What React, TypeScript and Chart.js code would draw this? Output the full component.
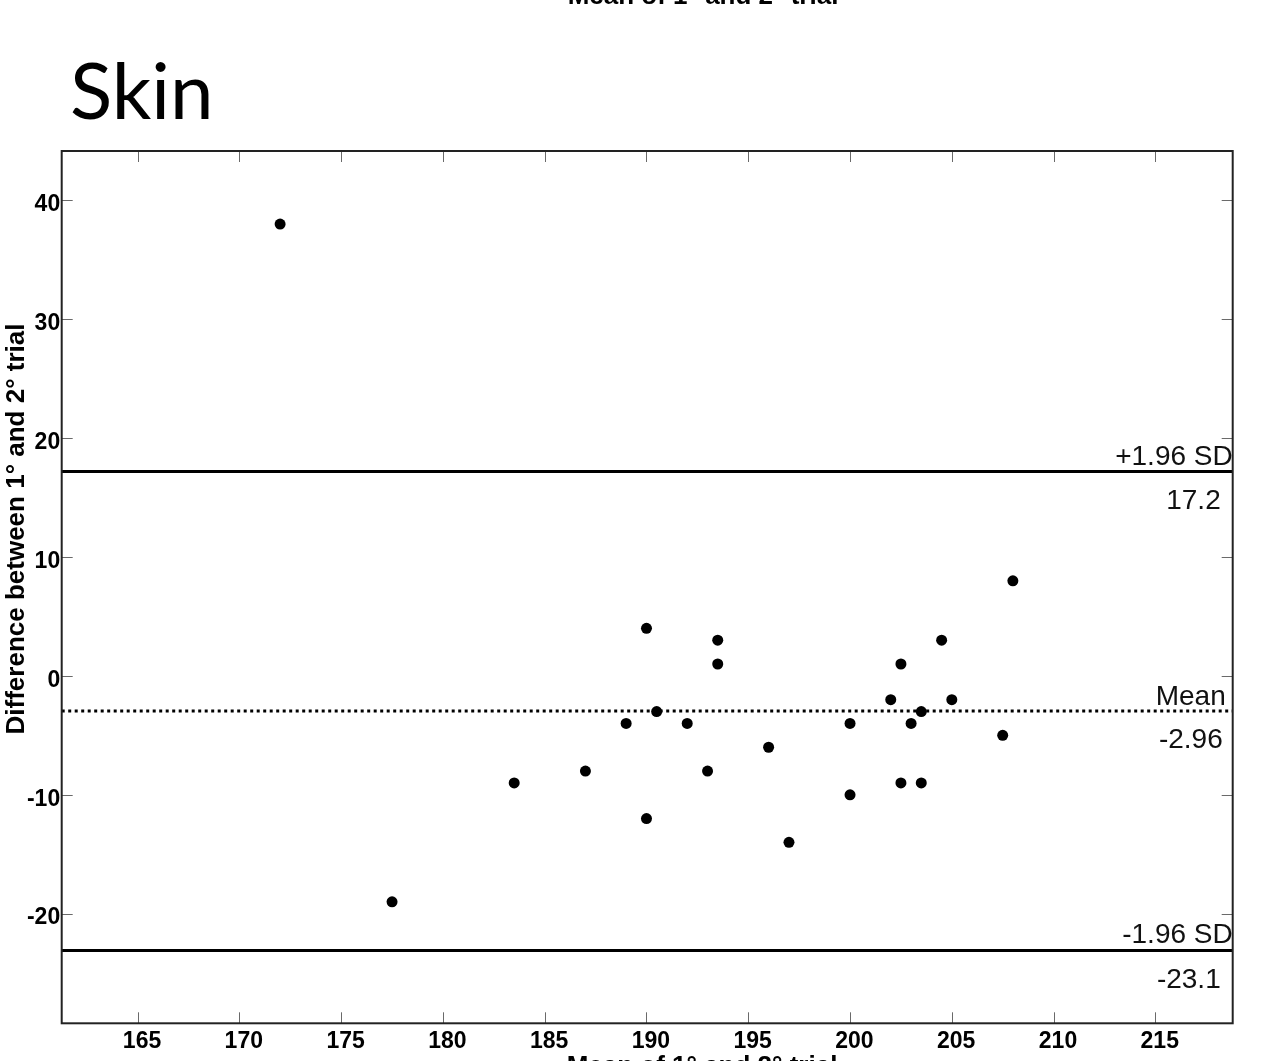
import React, { useEffect, useRef } from "react";
import { Chart, registerables } from "chart.js";

Chart.register(...registerables);

// ---- data ----
const MEAN_OF_TRIALS = [
  172, 177.5, 183.5, 187, 189, 190, 190, 190.5, 192, 193, 193.5, 193.5, 196,
  197, 200, 200, 202, 202.5, 202.5, 203, 203.5, 203.5, 204.5, 205, 207.5, 208,
];
const DIFF_OF_TRIALS = [
  38, -19, -9, -8, -4, 4, -12, -3, -4, -8, 3, 1, -6, -14, -4, -10, -2, 1, -9,
  -4, -3, -9, 3, -2, -5, 8,
];
const MEAN_DIFF = -2.96;
const UPPER_LOA = 17.2;
const LOWER_LOA = -23.1;

const X_TICKS = [165, 170, 175, 180, 185, 190, 195, 200, 205, 210, 215];
const Y_TICKS = [-20, -10, 0, 10, 20, 30, 40];
const X_RANGE = [161.27, 218.8];
const Y_RANGE = [-29.22, 44.15];

const PANEL_TITLE = "Skin";
const X_TITLE = "Mean of 1° and 2° trial";
const Y_TITLE = "Difference between 1° and 2° trial";
const UPPER_NAME = "+1.96 SD";
const MEAN_NAME = "Mean";
const LOWER_NAME = "-1.96 SD";

const FONT = "'Liberation Sans', Arial, Helvetica, sans-serif";

export default function App() {
  const ref = useRef<HTMLCanvasElement>(null);

  useEffect(() => {
    const canvas = ref.current;
    if (!canvas) return;

    const decor = {
      id: "decor",
      afterDraw(chart: any) {
        const { ctx, chartArea: a, scales } = chart;
        const xs = scales.x;
        const ys = scales.y;
        ctx.save();

        // inward tick marks on all four sides
        ctx.strokeStyle = "#6a6a6a";
        ctx.lineWidth = 1;
        ctx.beginPath();
        X_TICKS.forEach((v) => {
          const px = Math.round(xs.getPixelForValue(v)) + 0.5;
          ctx.moveTo(px, a.bottom);
          ctx.lineTo(px, a.bottom - 11);
          ctx.moveTo(px, a.top);
          ctx.lineTo(px, a.top + 11);
        });
        Y_TICKS.forEach((v) => {
          const py = Math.round(ys.getPixelForValue(v)) + 0.5;
          ctx.moveTo(a.left, py);
          ctx.lineTo(a.left + 11, py);
          ctx.moveTo(a.right, py);
          ctx.lineTo(a.right - 11, py);
        });
        ctx.stroke();

        // frame
        ctx.strokeStyle = "#222";
        ctx.lineWidth = 2;
        ctx.strokeRect(a.left, a.top, a.right - a.left, a.bottom - a.top);

        // limit labels
        ctx.fillStyle = "#111";
        ctx.font = `28px ${FONT}`;
        ctx.textAlign = "right";
        ctx.textBaseline = "alphabetic";
        const yU = ys.getPixelForValue(UPPER_LOA);
        const yM = ys.getPixelForValue(MEAN_DIFF);
        const yL = ys.getPixelForValue(LOWER_LOA);
        ctx.fillText(UPPER_NAME, a.right, yU - 6.5);
        ctx.fillText(String(UPPER_LOA), a.right - 12, yU + 38);
        ctx.fillText(MEAN_NAME, a.right - 7, yM - 6);
        ctx.fillText(String(MEAN_DIFF), a.right - 10, yM + 37);
        ctx.fillText(LOWER_NAME, a.right, yL - 7.5);
        ctx.fillText(String(LOWER_LOA), a.right - 12, yL + 37);

        // axis titles
        ctx.fillStyle = "#000";
        ctx.font = `bold 26px ${FONT}`;
        ctx.textAlign = "center";
        ctx.fillText(X_TITLE, 702, a.bottom + 51);
        // cut-off title of the panel above
        ctx.fillText(X_TITLE, 703, 4);

        ctx.save();
        ctx.translate(24, 529);
        ctx.rotate(-Math.PI / 2);
        ctx.fillText(Y_TITLE, 0, 0);
        ctx.restore();

        // panel title
        ctx.font = `78px Lato, 'Open Sans', sans-serif`;
        ctx.textAlign = "left";
        ctx.fillText(PANEL_TITLE, 70, 119);

        ctx.restore();
      },
    };

    const points = MEAN_OF_TRIALS.map((x, i) => ({ x, y: DIFF_OF_TRIALS[i] }));
    const hline = (v: number) => [
      { x: X_RANGE[0], y: v },
      { x: X_RANGE[1], y: v },
    ];

    const chart = new Chart(canvas, {
      type: "scatter",
      data: {
        datasets: [
          {
            data: points,
            pointRadius: 5.5,
            pointBackgroundColor: "#000",
            pointBorderColor: "#000",
            pointBorderWidth: 0,
            showLine: false,
          },
          {
            data: hline(UPPER_LOA),
            showLine: true,
            borderColor: "#000",
            borderWidth: 3,
            pointRadius: 0,
          },
          {
            data: hline(MEAN_DIFF),
            showLine: true,
            borderColor: "#000",
            borderWidth: 3,
            borderDash: [3, 3.5],
            pointRadius: 0,
          },
          {
            data: hline(LOWER_LOA),
            showLine: true,
            borderColor: "#000",
            borderWidth: 3,
            pointRadius: 0,
          },
        ],
      },
      options: {
        animation: false,
        responsive: false,
        events: [],
        layout: { padding: { top: 151, right: 52.3, bottom: 0, left: 0 } },
        plugins: {
          legend: { display: false },
          tooltip: { enabled: false },
        },
        scales: {
          x: {
            type: "linear",
            min: X_RANGE[0],
            max: X_RANGE[1],
            grid: { display: false, drawTicks: false },
            border: { display: false },
            afterBuildTicks: (s: any) => {
              s.ticks = X_TICKS.map((v) => ({ value: v }));
            },
            afterFit: (s: any) => {
              s.height = 37.7;
            },
            ticks: {
              color: "#000",
              padding: 5,
              labelOffset: 4.4,
              maxRotation: 0,
              autoSkip: false,
              font: { family: FONT, size: 23, weight: "bold" },
              callback: (v: any) => String(v),
            },
          },
          y: {
            type: "linear",
            min: Y_RANGE[0],
            max: Y_RANGE[1],
            grid: { display: false, drawTicks: false },
            border: { display: false },
            afterBuildTicks: (s: any) => {
              s.ticks = Y_TICKS.map((v) => ({ value: v }));
            },
            afterFit: (s: any) => {
              s.width = 61.7;
            },
            ticks: {
              color: "#000",
              padding: 1.5,
              labelOffset: 4.4,
              autoSkip: false,
              font: { family: FONT, size: 23, weight: "bold" },
              callback: (v: any) => String(v),
            },
          },
        },
      },
      plugins: [decor],
    } as any);

    return () => chart.destroy();
  }, []);

  return (
    <div style={{ position: "absolute", left: 0, top: 0, width: 1285, height: 1061, background: "#fff" }}>
      <canvas ref={ref} width={1285} height={1061} style={{ display: "block" }} />
    </div>
  );
}
